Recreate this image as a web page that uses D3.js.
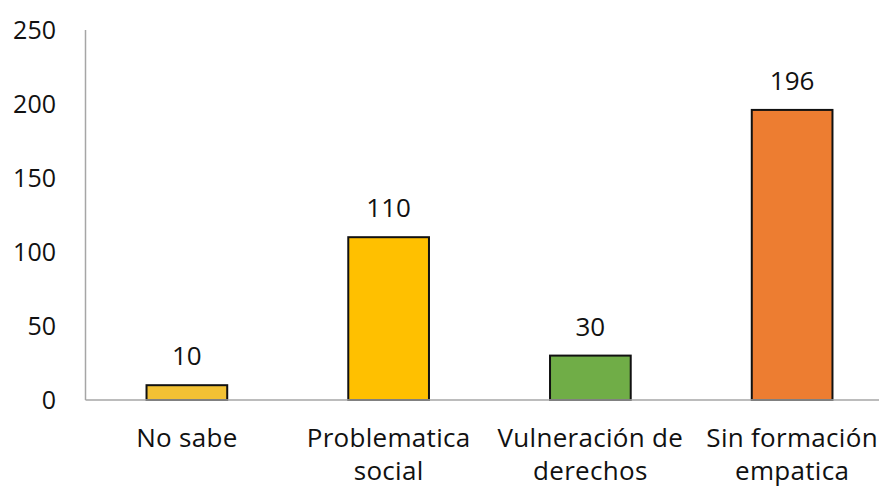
<!DOCTYPE html>
<html>
<head>
<meta charset="utf-8">
<script src="https://cdn.jsdelivr.net/npm/d3@7"></script>
<style>
  body { margin: 0; background: #fff; }
  text { font-family: "Open Sans", "Noto Sans", sans-serif; fill: #111; }
</style>
</head>
<body>
<svg width="879" height="489"></svg>
<script>
var categories = [["No sabe"], ["Problematica", "social"], ["Vulneración de", "derechos"], ["Sin formación", "empatica"]];
var values = [10, 110, 30, 196];
var colors = ["#F2C134", "#FFC000", "#70AD47", "#ED7D31"];
var yTicks = [0, 50, 100, 150, 200, 250];

var svg = d3.select("svg"),
    width = +svg.attr("width"),
    height = +svg.attr("height");

var x = d3.scaleBand()
    .domain(d3.range(values.length))
    .range([86, 893])
    .paddingInner(0.6)
    .paddingOuter(0.3);

var y = d3.scaleLinear().domain([0, 250]).range([400, 30]);

// y axis line
svg.append("line")
    .attr("x1", 85.5).attr("x2", 85.5)
    .attr("y1", y(250)).attr("y2", y(0))
    .attr("stroke", "#a6a6a6").attr("stroke-width", 1.5);

svg.append("g")
    .selectAll("text")
    .data(yTicks)
    .enter().append("text")
    .attr("x", 56)
    .attr("y", function(d) { return y(d); })
    .attr("dy", "0.35em")
    .attr("text-anchor", "end")
    .attr("font-size", 25)
    .text(function(d) { return d; });

svg.append("g")
    .selectAll("rect")
    .data(values)
    .enter().append("rect")
    .attr("x", function(d, i) { return x(i); })
    .attr("y", function(d) { return y(d); })
    .attr("width", x.bandwidth())
    .attr("height", function(d) { return y(0) - y(d); })
    .attr("fill", function(d, i) { return colors[i]; })
    .attr("stroke", "#111")
    .attr("stroke-width", 2);

// baseline
svg.append("line")
    .attr("x1", 85.5).attr("x2", width)
    .attr("y1", y(0)).attr("y2", y(0))
    .attr("stroke", "#a6a6a6").attr("stroke-width", 1.5);

svg.append("g")
    .selectAll("text")
    .data(values)
    .enter().append("text")
    .attr("x", function(d, i) { return x(i) + x.bandwidth() / 2; })
    .attr("y", function(d) { return y(d) - 20; })
    .attr("text-anchor", "middle")
    .attr("font-size", 26)
    .text(function(d) { return d; });

var cat = svg.append("g")
    .selectAll("text")
    .data(categories)
    .enter().append("text")
    .attr("x", function(d, i) { return x(i) + x.bandwidth() / 2; })
    .attr("y", 447)
    .attr("text-anchor", "middle")
    .attr("font-size", 26)
    .attr("letter-spacing", 0.3);

cat.selectAll("tspan")
    .data(function(d) { return d; })
    .enter().append("tspan")
    .attr("x", function() { return d3.select(this.parentNode).attr("x"); })
    .attr("dy", function(d, i) { return i ? 33 : 0; })
    .text(function(d) { return d; });
</script>
</body>
</html>
